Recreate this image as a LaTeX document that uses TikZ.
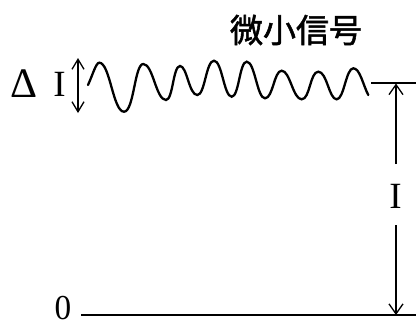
\documentclass[tikz,border=0pt]{standalone}
\usepackage{fontspec}
\setmainfont{Liberation Serif}
\newfontfamily\cjk[FakeBold=1.6]{Noto Sans CJK JP}
\usetikzlibrary{arrows.meta}
\begin{document}
\begin{tikzpicture}[x=1pt,y=-1pt,
  lbl/.style={inner sep=0pt, font=\fontsize{37}{37}\selectfont},
  wave/.style={line width=2.3pt, line cap=round},
  axis/.style={line width=1.6pt},
  dim/.style={line width=1.3pt, -{Straight Barb[length=10pt,width=14pt,line width=1.3pt]}},
  dimb/.style={line width=1.3pt, {Straight Barb[length=10pt,width=12pt,line width=1.3pt]}-{Straight Barb[length=10pt,width=12pt,line width=1.3pt]}}]
\useasboundingbox (0,0) rectangle (416,325);
% title
\node[inner sep=0pt, font=\cjk\fontsize{33}{33}\selectfont] (title) at (296,30) {微小信号};
% labels
\node[lbl, font=\fontsize{42}{42}\selectfont] (delta) at (24.5,84) {Δ};
\node[lbl] (dI) at (59.5,84.5) {I};
\node[lbl] (I) at (395.5,196.5) {I};
\node[lbl, font=\fontsize{35}{35}\selectfont, xscale=0.95] (zero) at (63,308) {0};
% coordinates
\coordinate (dtop) at (78,58);
\coordinate (dbot) at (78,113);
\coordinate (wstart) at (88,85);
\coordinate (wend) at (368.3,95);
\coordinate (lineL) at (371,83);
\coordinate (lineR) at (416,83);
\coordinate (vtop) at (396,83.5);
\coordinate (vup) at (396,164);
\coordinate (vdown) at (396,225);
\coordinate (vbot) at (396,315);
\coordinate (baseL) at (81,315);
\coordinate (baseR) at (416,315);
% delta I arrow
\draw[dimb] (dbot) -- (dtop);
% wave
\draw[wave] (wstart) .. controls (93,74) and (96,62.7) .. (99.3,62.7)
  .. controls (110,62.7) and (113,111.7) .. (124,111.7)
  .. controls (134,111.7) and (134.5,64) .. (143.3,64)
  .. controls (153,64) and (156,100) .. (166,100)
  .. controls (173,100) and (173,66) .. (180,66)
  .. controls (187,66) and (189,95) .. (197.3,95)
  .. controls (205,95) and (206,60.7) .. (214,60.7)
  .. controls (222,60.7) and (224,96.7) .. (231.7,96.7)
  .. controls (239,96.7) and (239.5,61.7) .. (246.7,61.7)
  .. controls (255,61.7) and (257,98.3) .. (265,98.3)
  .. controls (273,98.3) and (274,70.7) .. (281.7,70.7)
  .. controls (290,70.7) and (293,99.3) .. (301.7,99.3)
  .. controls (310,99.3) and (310,71.7) .. (318.3,71.7)
  .. controls (327,71.7) and (329,99.3) .. (336.7,99.3)
  .. controls (344,99.3) and (346,68.3) .. (353.3,68.3)
  .. controls (360,68.3) and (363,85) .. (wend);
% top level line
\draw[axis] (lineL) -- (lineR);
% base line
\draw[axis] (baseL) -- (baseR);
% I dimension
\draw[dim] (vup) -- (vtop);
\draw[dim] (vdown) -- (vbot);
\end{tikzpicture}
\end{document}
